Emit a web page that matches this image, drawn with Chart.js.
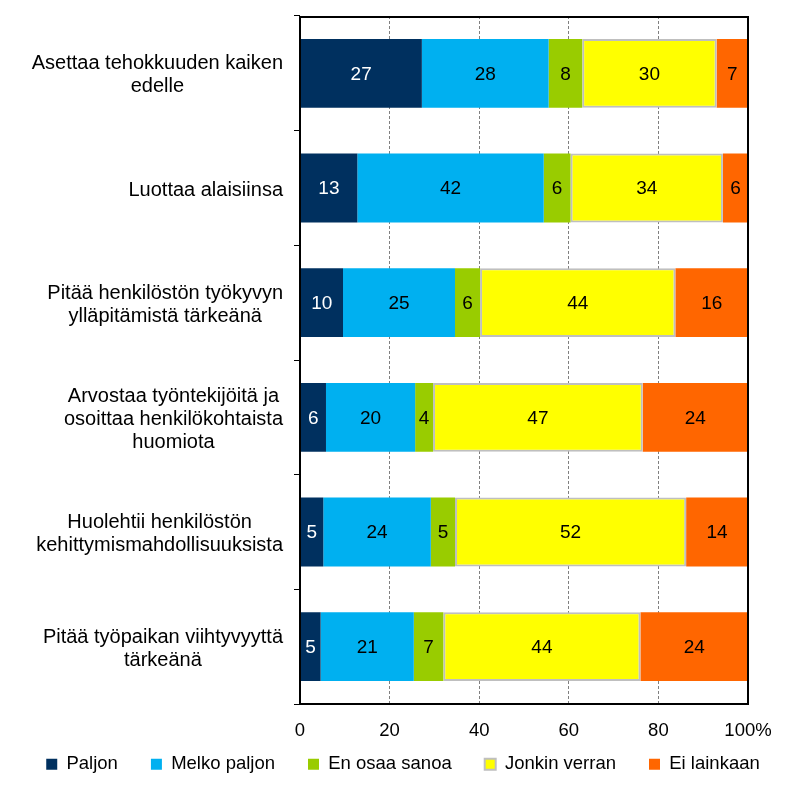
<!DOCTYPE html>
<html lang="fi">
<head>
<meta charset="utf-8">
<title>Esimiehen toiminta</title>
<script src="https://cdn.jsdelivr.net/npm/chart.js@4.4.1/dist/chart.umd.min.js"></script>
<style>
  html, body { margin: 0; padding: 0; background: #fff; }
</style>
</head>
<body>
<canvas id="kaavio" width="800" height="789"></canvas>
<script>
// kategoriat (rivit) ja sarjat
const kategoriat = [
  ['Asettaa tehokkuuden kaiken', 'edelle'],
  ['Luottaa alaisiinsa'],
  ['Pitää henkilöstön työkyvyn', 'ylläpitämistä tärkeänä'],
  ['Arvostaa työntekijöitä ja', 'osoittaa henkilökohtaista', 'huomiota'],
  ['Huolehtii henkilöstön', 'kehittymismahdollisuuksista'],
  ['Pitää työpaikan viihtyvyyttä', 'tärkeänä']
];
const sarjat = ['Paljon', 'Melko paljon', 'En osaa sanoa', 'Jonkin verran', 'Ei lainkaan'];

// osuudet % (luettu kuvasta)
const paljon       = [27.2, 12.8,  9.6,  5.8,  5.2,  4.6];
const melkoPaljon  = [28.3, 41.6, 25.0, 19.9, 24.0, 20.8];
const enOsaaSanoa  = [ 7.5,  6.0,  5.6,  4.0,  5.4,  6.6];
const jonkinVerran = [30.0, 34.0, 43.6, 46.8, 51.6, 44.0];
const eiLainkaan   = [ 7.0,  5.6, 16.2, 23.5, 13.8, 24.0];

const xTikit = [0, 20, 40, 60, 80, 100];

const fontti = "'Liberation Sans', Arial, sans-serif";
const varit = ['#00305F', '#00B0F0', '#99CC00', '#FFFF00', '#FF6600'];

// kehys, arvot palkkien sisällä
const arvoTekstit = {
  id: 'arvoTekstit',
  afterDatasetsDraw(chart) {
    const ctx = chart.ctx;
    const a = chart.chartArea;
    ctx.save();
    ctx.strokeStyle = '#000';
    ctx.lineWidth = 2;
    ctx.strokeRect(a.left, a.top + 1, a.right - a.left, a.bottom - a.top - 1);
    ctx.font = '19px ' + fontti;
    ctx.textAlign = 'center';
    ctx.textBaseline = 'middle';
    chart.data.datasets.forEach((ds, di) => {
      chart.getDatasetMeta(di).data.forEach((bar, i) => {
        const p = bar.getProps(['x', 'y', 'base'], true);
        ctx.fillStyle = di === 0 ? '#fff' : '#000';
        ctx.fillText(String(Math.round(ds.data[i])), (p.x + p.base) / 2, p.y + 1);
      });
    });
    ctx.restore();
  }
};

// rivien otsikot: lohko oikealle, rivit keskitettyinä
const kategoriaTekstit = {
  id: 'kategoriaTekstit',
  afterDraw(chart) {
    const ctx = chart.ctx;
    const y = chart.scales.y;
    const oikea = chart.chartArea.left - 17;
    ctx.save();
    ctx.font = '20px ' + fontti;
    ctx.fillStyle = '#000';
    ctx.textAlign = 'center';
    ctx.textBaseline = 'middle';
    kategoriat.forEach((rivit, i) => {
      const keski = y.getPixelForValue(i) + 2;
      const leveys = Math.max(...rivit.map(r => ctx.measureText(r).width));
      const x = oikea - leveys / 2;
      rivit.forEach((r, j) => {
        ctx.fillText(r, x, keski + (j - (rivit.length - 1) / 2) * 23);
      });
    });
    ctx.restore();
  }
};

// selite hieman ylemmäs kuin asettelu antaisi
const seliteSiirto = {
  id: 'seliteSiirto',
  afterLayout(chart) {
    const l = chart.legend;
    l.top = 722;
    l.bottom = chart.height;
    l.height = l.bottom - l.top;
  }
};

const aineisto = [paljon, melkoPaljon, enOsaaSanoa, jonkinVerran, eiLainkaan];

new Chart(document.getElementById('kaavio'), {
  type: 'bar',
  data: {
    labels: kategoriat,
    datasets: sarjat.map((nimi, i) => ({
      label: nimi,
      data: aineisto[i],
      backgroundColor: varit[i],
      borderColor: i === 3 ? '#BFBFBF' : varit[i],
      borderWidth: i === 3 ? 2 : 0,
      borderSkipped: false,
      barPercentage: 0.6,
      categoryPercentage: 1
    }))
  },
  options: {
    indexAxis: 'y',
    responsive: false,
    animation: false,
    layout: { padding: { top: 16, right: 0, bottom: 0, left: 6 } },
    plugins: {
      tooltip: { enabled: false },
      legend: {
        position: 'bottom',
        maxHeight: 53,
        labels: {
          boxWidth: 11,
          boxHeight: 11,
          padding: 33,
          color: '#000',
          font: { size: 18.5, family: fontti }
        }
      }
    },
    scales: {
      x: {
        stacked: true,
        min: 0,
        max: 100,
        afterFit: s => { s.height = 32; },
        afterBuildTicks: s => { s.ticks = xTikit.map(v => ({ value: v })); },
        ticks: {
          callback: v => v === 100 ? '100%' : v,
          color: '#000',
          padding: 16,
          maxRotation: 0,
          font: { size: 18.5, family: fontti }
        },
        grid: { color: '#808080', lineWidth: 1, drawTicks: false },
        border: { display: false, dash: [3, 2] }
      },
      y: {
        stacked: true,
        afterFit: s => { s.width = 294; },
        ticks: { display: false },
        grid: { drawOnChartArea: false, drawTicks: true, tickLength: 6, tickColor: '#000', offset: true },
        border: { display: false }
      },
      y2: {
        axis: 'y',
        type: 'category',
        position: 'right',
        afterFit: s => { s.width = 52; },
        ticks: { display: false },
        grid: { display: false },
        border: { display: false }
      }
    }
  },
  plugins: [arvoTekstit, kategoriaTekstit, seliteSiirto]
});
</script>
</body>
</html>
